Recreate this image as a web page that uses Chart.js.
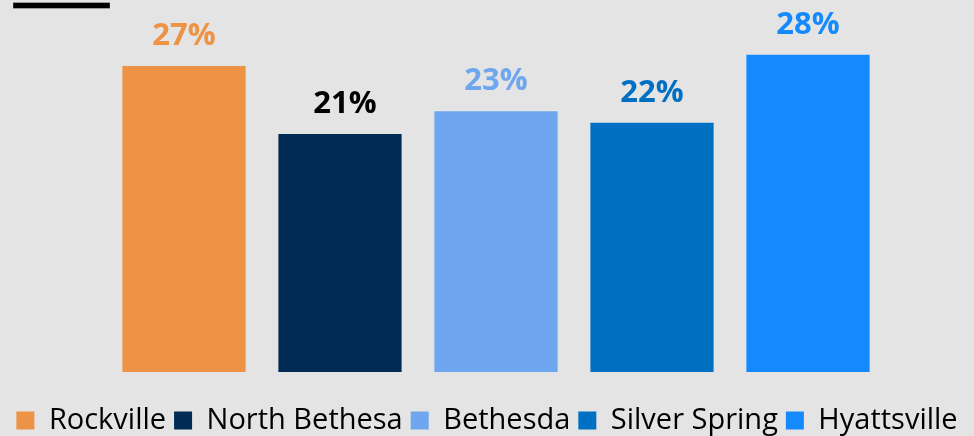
<!DOCTYPE html>
<html>
<head>
<meta charset="utf-8">
<script src="https://cdn.jsdelivr.net/npm/chart.js@4/dist/chart.umd.min.js"></script>
<style>
  html, body { margin: 0; padding: 0; background: #e4e4e4; overflow: hidden; }
  canvas { display: block; }
</style>
</head>
<body>
<canvas id="c" width="974" height="436"></canvas>
<script>
const categories = ["Rockville", "North Bethesa", "Bethesda", "Silver Spring", "Hyattsville"];
const values = [27, 21, 23, 22, 28];
const barColors = ["#ee9246", "#002b54", "#6ea7f0", "#0070c3", "#158aff"];
const labelColors = ["#ee9246", "#000000", "#6ea7f0", "#0070c3", "#158aff"];

// small horizontal nudges of the value labels (styling only)
const labelNudge = [0, 5, 0, 0, 0];

const bgPlugin = {
  id: "bg",
  beforeDraw(chart) {
    const ctx = chart.ctx;
    ctx.save();
    ctx.fillStyle = "#e4e4e4";
    ctx.fillRect(0, 0, chart.width, chart.height);
    ctx.fillStyle = "#555";
    ctx.fillRect(13, 2.5, 97, 6);
    ctx.fillStyle = "#000";
    ctx.fillRect(13.5, 3, 96, 5);
    ctx.restore();
  }
};

const valueLabels = {
  id: "valueLabels",
  afterDatasetsDraw(chart) {
    const ctx = chart.ctx;
    const meta = chart.getDatasetMeta(0);
    ctx.save();
    ctx.font = "bold 31px 'Open Sans'";
    ctx.textAlign = "center";
    ctx.textBaseline = "alphabetic";
    meta.data.forEach((bar, i) => {
      ctx.fillStyle = labelColors[i];
      ctx.fillText(values[i] + "%", bar.x + labelNudge[i], bar.y - 21);
    });
    ctx.restore();
  }
};

new Chart(document.getElementById("c"), {
  type: "bar",
  data: {
    labels: categories,
    datasets: [{
      data: values,
      backgroundColor: barColors,
      borderWidth: 0,
      categoryPercentage: 1,
      barPercentage: 0.79
    }]
  },
  options: {
    responsive: false,
    animation: false,
    devicePixelRatio: 1,
    layout: { padding: { top: 32, bottom: -9, left: 0, right: 0 } },
    scales: {
      x: {
        display: true,
        grid: { display: false },
        border: { display: false },
        ticks: { display: false },
        afterFit(s) { s.height = 26; }
      },
      y: {
        display: true,
        min: 0,
        max: 30,
        grid: { display: false },
        border: { display: false },
        ticks: { display: false },
        afterFit(s) { s.width = 106; }
      },
      yR: {
        display: true,
        position: "right",
        grid: { display: false },
        border: { display: false },
        ticks: { display: false },
        afterFit(s) { s.width = 88; }
      }
    },
    plugins: {
      tooltip: { enabled: false },
      legend: {
        display: true,
        position: "bottom",
        labels: {
          boxWidth: 18,
          boxHeight: 18,
          padding: 8,
          color: "#111",
          font: { family: "'Open Sans'", size: 29 },
          generateLabels(chart) {
            return categories.map((c, i) => ({
              text: c,
              fillStyle: barColors[i],
              strokeStyle: barColors[i],
              lineWidth: 0,
              hidden: false,
              index: i
            }));
          }
        }
      }
    }
  },
  plugins: [bgPlugin, valueLabels]
});
</script>
</body>
</html>
